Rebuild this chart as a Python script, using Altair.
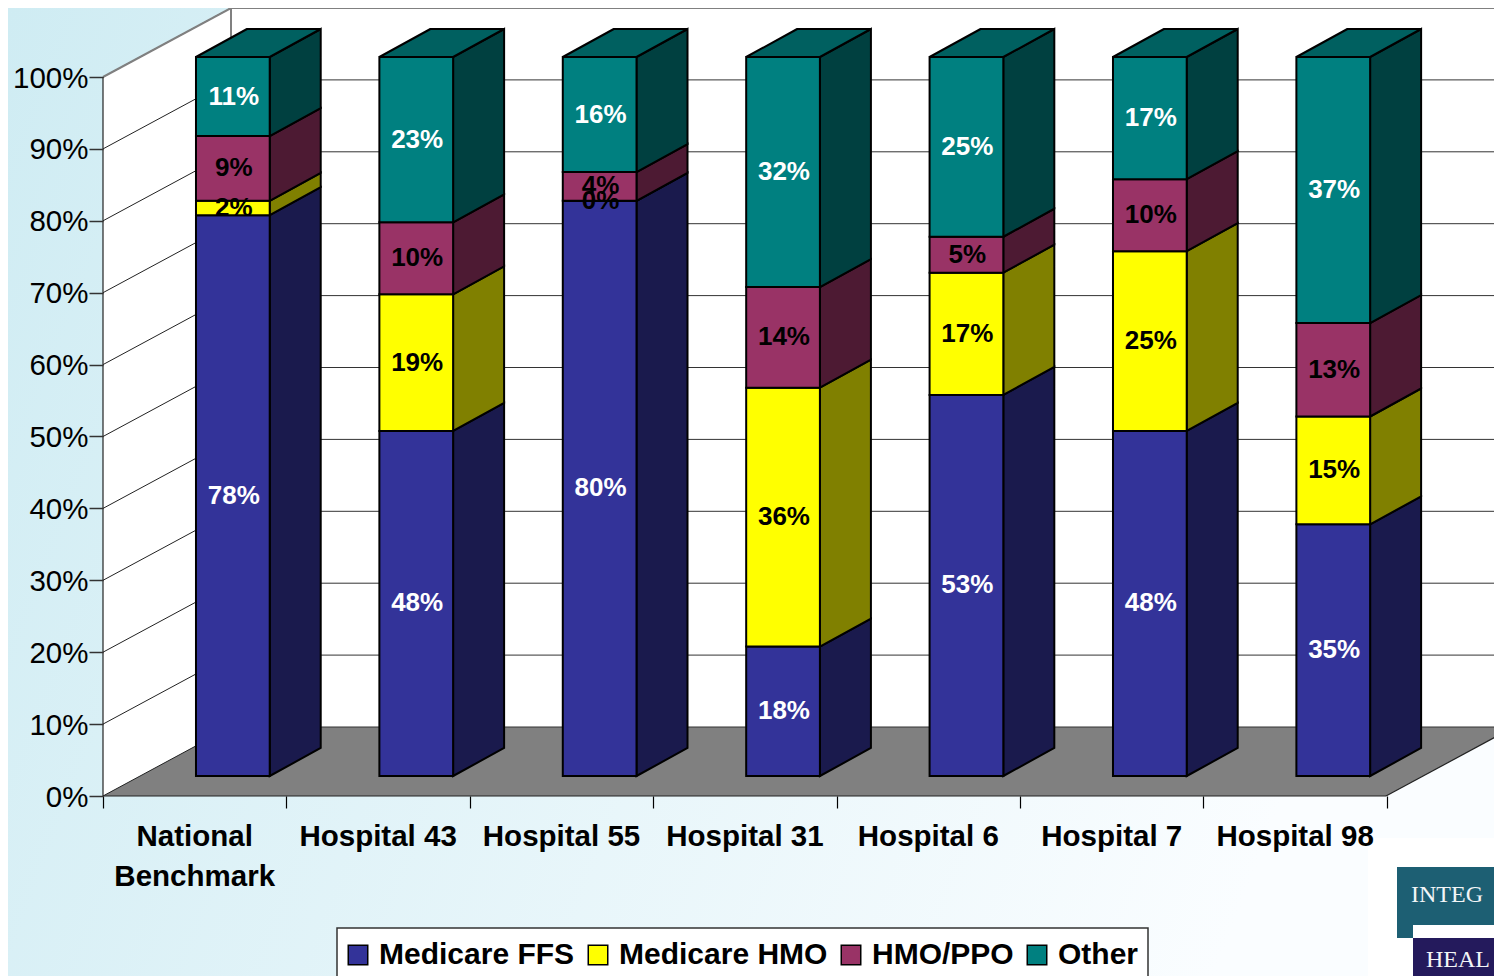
import altair as alt
import pandas as pd

# ---- data ----
hospitals = ["National Benchmark", "Hospital 43", "Hospital 55", "Hospital 31",
             "Hospital 6", "Hospital 7", "Hospital 98"]
series = ["Medicare FFS", "Medicare HMO", "HMO/PPO", "Other"]
medicare_ffs = [78, 48, 80, 18, 53, 48, 35]
medicare_hmo = [2, 19, 0, 36, 17, 25, 15]
hmo_ppo = [9, 10, 4, 14, 5, 10, 13]
other = [11, 23, 16, 32, 25, 17, 37]
front_colors = ["#333399", "#FFFF00", "#993366", "#008080"]
side_colors = ["#1A1A4D", "#808000", "#4D1A33", "#004040"]
top_color = "#006060"
label_colors = ["white", "black", "black", "white"]
ticks = list(range(0, 101, 10))

# ---- chart geometry ----
W, H = 1486, 968
ORIGIN_X, STEP_X = 103, 183.4        # px of slot 0, px per slot
PX_PER_PCT = 7.19
ORIGIN_Y = 796
F = "Liberation Sans"

def ux(px):
    return (px - ORIGIN_X) / STEP_X

def uy(px):
    return (ORIGIN_Y - px) / PX_PER_PCT

BAR_L, BAR_W = 0.507, 0.402
DEPTH_X, DEPTH_Y = ux(154), 28 / PX_PER_PCT
FRONT_SHIFT = 20 / PX_PER_PCT
WALL_X, WALL_Y = ux(231), uy(727)
RIGHT_X = ux(1386)

x_scale = alt.Scale(domain=[ux(8), ux(1494)], range=[0, W], nice=False, zero=False)
y_scale = alt.Scale(domain=[uy(976), uy(8)], range=[H, 0], nice=False, zero=False)
X = lambda f, **k: alt.X(f, type="quantitative", scale=x_scale, **k)
Y = lambda f, **k: alt.Y(f, type="quantitative", scale=y_scale, **k)
no_x = dict(title=None)

# ---- tables ----
cols = [medicare_ffs, medicare_hmo, hmo_ppo, other]
front, side, top, labels = [], [], [], []
for i, h in enumerate(hospitals):
    l, r = i + BAR_L, i + BAR_L + BAR_W
    base = FRONT_SHIFT
    for s, col in enumerate(cols):
        v = col[i]
        y0, y1 = base, base + v
        front.append(dict(l=l, r=r, y0=y0, y1=y1, series=series[s]))
        side.append(dict(id=f"{i}-{s}", x=r, y=y0, y2=y1, c=side_colors[s]))
        side.append(dict(id=f"{i}-{s}", x=r + DEPTH_X, y=y0 + DEPTH_Y, y2=y1 + DEPTH_Y, c=side_colors[s]))
        labels.append(dict(x=(l + r) / 2 + 0.005, y=(y0 + y1) / 2, t=f"{v}%", c=label_colors[s]))
        base = y1
    top.append(dict(id=i, y=base, x=l, x2=r))
    top.append(dict(id=i, y=base + DEPTH_Y, x=l + DEPTH_X, x2=r + DEPTH_X))

front, side, top, labels = map(pd.DataFrame, (front, side, top, labels))

left_wall = pd.DataFrame(dict(x=[0, WALL_X], y=[0, WALL_Y], y2=[100, 100 + WALL_Y]))
back_wall = pd.DataFrame(dict(x=[WALL_X, ux(1520)], y=[WALL_Y, WALL_Y], y2=[100 + WALL_Y, 100 + WALL_Y]))
floor = pd.DataFrame(dict(y=[0, WALL_Y], x=[0, WALL_X], x2=[RIGHT_X, RIGHT_X + WALL_X]))
grid = pd.DataFrame(dict(p=[t + 0.0 for t in ticks]))
grid["x"] = 0.0
grid["xw"] = WALL_X
grid["xe"] = ux(1520)
grid["yw"] = grid.p + WALL_Y
cat = pd.DataFrame(dict(x=[i + 0.5 for i in range(7)],
                        y=[uy(837)] * 7,
                        t=[h.split(" ") if i == 0 else [h] for i, h in enumerate(hospitals)]))

# ---- layers ----
gradient = alt.Gradient(gradient="linear", x1=0, y1=0, x2=1, y2=0.25,
                        stops=[alt.GradientStop(color="#CFECF3", offset=0),
                               alt.GradientStop(color="#FAFDFF", offset=1)])
bg = alt.Chart(pd.DataFrame(dict(a=[0]))).mark_rect(color=gradient).encode(
    x=alt.value(0), x2=alt.value(W), y=alt.value(0), y2=alt.value(H))

wall_l = alt.Chart(left_wall).mark_area(color="white", clip=True).encode(
    X("x", **no_x, axis=alt.Axis(offset=-180, values=[float(i) for i in range(8)], labels=False,
                                 grid=False, domain=False, tickColor="black", tickSize=12,
                                 tickWidth=1.2, zindex=1)),
    Y("y", **no_x, axis=alt.Axis(offset=-95, values=ticks, grid=False, domain=False, tickColor="#333333",
                                 tickSize=14, tickWidth=1.5, labelFont=F, labelFontSize=29.5,
                                 labelColor="black", labelPadding=1, labelOffset=1,
                                 labelExpr="datum.value + '%'", zindex=1)),
    alt.Y2("y2"))
wall_b = alt.Chart(back_wall).mark_area(color="white", clip=True).encode(
    X("x", **no_x), Y("y", **no_x), alt.Y2("y2"))
floor_l = alt.Chart(floor).mark_area(color="#808080", orient="horizontal", clip=True).encode(
    X("x", **no_x), alt.X2("x2"), Y("y", **no_x))

grid_left = alt.Chart(grid).mark_rule(color="#222222", strokeWidth=1, clip=True).encode(
    X("x", **no_x), alt.X2("xw"), Y("p", **no_x), alt.Y2("yw"))
grid_back = alt.Chart(grid).mark_rule(color="#333333", strokeWidth=1, clip=True).encode(
    X("xw", **no_x), alt.X2("xe"), Y("yw", **no_x))

edge = pd.DataFrame(dict(x=[0.0, WALL_X, WALL_X], x2=[WALL_X, WALL_X, ux(1520)],
                         y=[100.0, 100 + WALL_Y, 100 + WALL_Y],
                         y2=[100 + WALL_Y, WALL_Y, 100 + WALL_Y]))
edges = alt.Chart(edge).mark_rule(color="#808080", strokeWidth=2, clip=True).encode(
    X("x", **no_x), alt.X2("x2"), Y("y", **no_x), alt.Y2("y2"))
dark_edge = pd.DataFrame(dict(x=[0.0, 0.0, RIGHT_X], x2=[0.0, RIGHT_X, RIGHT_X + WALL_X],
                              y=[0.0, 0.0, 0.0], y2=[100.0, 0.0, WALL_Y]))
dark_e = alt.Chart(dark_edge).mark_rule(color="#222222", strokeWidth=1.2, clip=True).encode(
    X("x", **no_x), alt.X2("x2"), Y("y", **no_x), alt.Y2("y2"))

OUT = dict(stroke="black", strokeWidth=2, strokeJoin="miter")
sides = alt.Chart(side).mark_area(**OUT).encode(
    X("x", **no_x), Y("y", **no_x), alt.Y2("y2"), detail="id:N",
    fill=alt.Fill("c:N", scale=None))
tops = alt.Chart(top).mark_area(color=top_color, orient="horizontal", **OUT).encode(
    X("x", **no_x), alt.X2("x2"), Y("y", **no_x), detail="id:N")
fronts = alt.Chart(front).mark_rect(**OUT).encode(
    X("l", **no_x), alt.X2("r"), Y("y0", **no_x), alt.Y2("y1"),
    color=alt.Color("series:N", sort=series,
                    scale=alt.Scale(domain=series, range=front_colors),
                    legend=alt.Legend(
                        orient="none", legendX=335, legendY=932, direction="horizontal", columns=4,
                        title=None, symbolType="square", symbolSize=380, symbolStrokeColor="black",
                        symbolStrokeWidth=1.5, labelFont=F, labelFontWeight="bold", labelFontSize=30,
                        labelColor="black", labelLimit=400, labelOffset=6, columnPadding=8,
                        padding=0, symbolOpacity=1)))
bar_text = alt.Chart(labels).mark_text(font=F, fontWeight="bold", fontSize=26).encode(
    X("x", **no_x), Y("y", **no_x), text="t", color=alt.Color("c:N", scale=None))
cat_text = alt.Chart(cat).mark_text(font=F, fontWeight="bold", fontSize=29.5, color="black",
                                    baseline="middle", lineHeight=40).encode(
    X("x", **no_x), Y("y", **no_x), text="t")

def box(x0, x1, y0, y1, **mark):
    d = pd.DataFrame(dict(x=[ux(x0)], x2=[ux(x1)], y=[uy(y0)], y2=[uy(y1)]))
    return alt.Chart(d).mark_rect(clip=True, **mark).encode(
        X("x", **no_x), alt.X2("x2"), Y("y", **no_x), alt.Y2("y2"))

legend_box = box(337, 1148, 928, 990, color="white", stroke="#333333", strokeWidth=1.5)

# logo in the lower right corner
patch = box(1368, 1510, 838, 985, color="white")
logo_teal = box(1397, 1510, 867, 938, color="#1D5F73")
logo_white = box(1413, 1510, 925, 938, color="white")
logo_navy = box(1413, 1510, 938, 985, color="#241A5C")
logo_txt = alt.Chart(pd.DataFrame(dict(x=[ux(1411), ux(1426)], y=[uy(895), uy(960)],
                                       t=["INTEG", "HEAL"]))).mark_text(
    font="Liberation Serif", fontSize=24, color="#F2F5F7", align="left", baseline="middle").encode(
    X("x", **no_x), Y("y", **no_x), text="t")

chart = alt.layer(
    bg, wall_l, wall_b, floor_l, grid_left, grid_back, edges, dark_e,
    sides, tops, legend_box, fronts, bar_text,
    patch, logo_teal, logo_white, logo_navy, logo_txt, cat_text,
).properties(
    width=W, height=H, padding=0, autosize=alt.AutoSizeParams(type="none"),
    background="#CFECF3",
).configure_view(stroke=None)

chart.save("out.html", embed_options={"renderer": "svg", "actions": False})
